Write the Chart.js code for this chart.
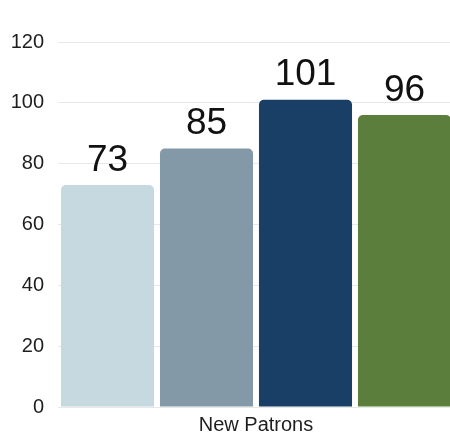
<!DOCTYPE html>
<html>
<head>
<meta charset="utf-8">
<script src="https://cdn.jsdelivr.net/npm/chart.js@4.4.1/dist/chart.umd.min.js"></script>
<style>
  html, body { margin: 0; padding: 0; background: #fff; overflow: hidden; }
  #wrap { width: 454px; height: 437px; }
</style>
</head>
<body>
<div id="wrap"><canvas id="chart"></canvas></div>
<script>
const categories = ['New Patrons'];
const seriesNames = ['Series 1', 'Series 2', 'Series 3', 'Series 4'];
const seriesValues = [73, 85, 101, 96];
const seriesColors = ['#c6d9e0', '#8399a8', '#1a3f66', '#5c7e3d'];
const yTicks = [0, 20, 40, 60, 80, 100, 120];

const FONT = "'Liberation Sans', Arial, sans-serif";
const TEXT = '#1e1e1e';

// draws the big value above each bar
const valueLabels = {
  id: 'valueLabels',
  afterDatasetsDraw(chart) {
    const ctx = chart.ctx;
    ctx.save();
    ctx.font = `37px ${FONT}`;
    ctx.fillStyle = '#111';
    ctx.textAlign = 'center';
    ctx.textBaseline = 'bottom';
    chart.data.datasets.forEach((ds, i) => {
      const meta = chart.getDatasetMeta(i);
      meta.data.forEach((bar, j) => {
        ctx.fillText(String(ds.data[j]), bar.x, bar.y - 6);
      });
    });
    ctx.restore();
  },
};

new Chart(document.getElementById('chart'), {
  type: 'bar',
  plugins: [valueLabels],
  data: {
    labels: categories,
    datasets: seriesNames.map((name, i) => ({
      label: name,
      data: [seriesValues[i]],
      backgroundColor: seriesColors[i],
      borderRadius: { topLeft: 5, topRight: 5 },
      borderSkipped: 'start',
    })),
  },
  options: {
    responsive: true,
    maintainAspectRatio: false,
    animation: false,
    layout: { padding: { left: 8, right: 0, top: 42, bottom: 0 } },
    datasets: { bar: { barPercentage: 0.94, categoryPercentage: 1 } },
    scales: {
      x: {
        grid: { display: false },
        border: { display: false },
        ticks: { color: TEXT, font: { family: FONT, size: 20 }, padding: -2 },
        afterFit: (axis) => { axis.height = 30; },
      },
      y: {
        min: 0,
        max: 120,
        afterBuildTicks: (axis) => { axis.ticks = yTicks.map((v) => ({ value: v })); },
        afterFit: (axis) => { axis.width = 50; },
        grid: { color: '#e6e9e6', drawTicks: false },
        border: { display: false },
        ticks: { color: TEXT, font: { family: FONT, size: 20 }, padding: 14 },
      },
    },
    plugins: {
      legend: { display: false },
      tooltip: { enabled: false },
    },
  },
});
</script>
</body>
</html>
